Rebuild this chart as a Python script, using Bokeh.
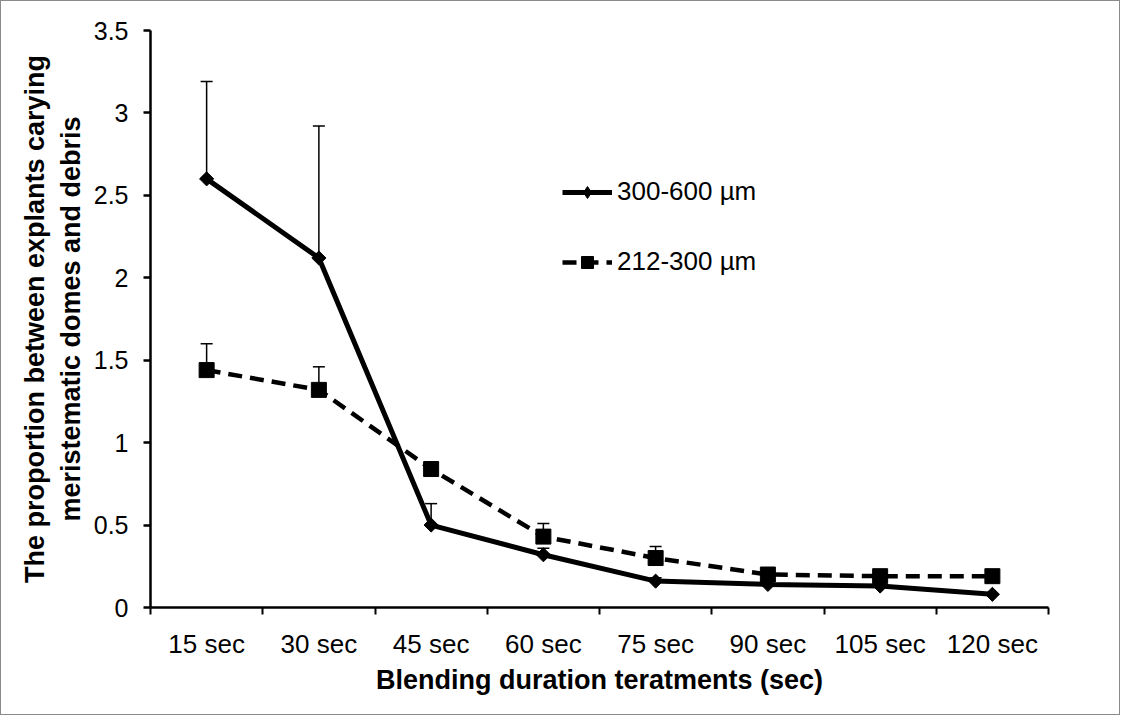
import math
from bokeh.plotting import figure
from bokeh.models import (ColumnDataSource, FixedTicker, Range1d, Whisker, Legend, LegendItem)
from bokeh.embed import file_html
from bokeh.resources import INLINE

categories = ["15 sec", "30 sec", "45 sec", "60 sec", "75 sec", "90 sec", "105 sec", "120 sec"]
s1_name = "300-600 µm"
s1_vals = [2.60, 2.12, 0.50, 0.32, 0.16, 0.14, 0.13, 0.08]
s1_err = [0.59, 0.80, 0.13, 0.04, 0.02, 0.00, 0.00, 0.00]
s2_name = "212-300 µm"
s2_vals = [1.44, 1.32, 0.84, 0.43, 0.30, 0.20, 0.19, 0.19]
s2_err = [0.16, 0.14, 0.00, 0.08, 0.07, 0.00, 0.00, 0.00]
y_ticks = [0, 0.5, 1, 1.5, 2, 2.5, 3, 3.5]
x_title = "Blending duration teratments (sec)"
y_title = "The proportion between explants carying\nmeristematic domes and debris"

FONT = "Liberation Sans"
xs = [i + 0.5 for i in range(len(categories))]

p = figure(width=1120, height=715, output_backend="svg", toolbar_location=None,
           x_range=Range1d(0, len(categories)), y_range=Range1d(0, 3.5),
           min_border_left=149, min_border_right=73, min_border_top=29, min_border_bottom=109)
p.styles = {"border": "1px solid #8a8a8a"}
p.outline_line_color = None
p.grid.visible = False
p.background_fill_color = "white"
p.border_fill_color = "white"

src1 = ColumnDataSource(dict(x=xs, y=s1_vals, up=[v + e for v, e in zip(s1_vals, s1_err)]))
src2 = ColumnDataSource(dict(x=xs, y=s2_vals, up=[v + e for v, e in zip(s2_vals, s2_err)]))

for src in (src1, src2):
    w = Whisker(source=src, base="x", lower="y", upper="up", dimension="height",
                line_color="black", line_width=1.5, lower_head=None)
    w.upper_head.line_color = "black"
    w.upper_head.line_width = 1.5
    w.upper_head.size = 12
    p.add_layout(w)

l2 = p.line("x", "y", source=src2, line_color="black", line_width=4.5, line_dash="14 8")
m2 = p.scatter("x", "y", source=src2, marker="square", size=15, fill_color="black", line_color="black")
l1 = p.line("x", "y", source=src1, line_color="black", line_width=5)
m1 = p.scatter("x", "y", source=src1, marker="square", angle=math.pi / 4, size=10,
               fill_color="black", line_color="black")
# legend-only diamond glyph, placed outside the visible range
leg_src = ColumnDataSource(dict(x=[-5.0], y=[-5.0]))
m1_leg = p.scatter("x", "y", source=leg_src, marker="diamond", size=15,
                   fill_color="black", line_color="black")

legend = Legend(items=[LegendItem(label=s1_name, renderers=[l1, m1_leg]),
                       LegendItem(label=s2_name, renderers=[l2, m2])],
                location=(412, 330), orientation="vertical")
legend.glyph_width = 50
legend.glyph_height = 30
legend.label_height = 30
legend.spacing = 39
legend.padding = 0
legend.margin = 0
legend.label_standoff = 5
legend.border_line_color = None
legend.background_fill_alpha = 0
legend.label_text_font = FONT
legend.label_text_font_size = "26px"
legend.label_text_color = "black"
p.add_layout(legend)

xa = p.xaxis[0]
xa.ticker = FixedTicker(ticks=xs, minor_ticks=list(range(len(categories) + 1)))
xa.major_label_overrides = {x: c for x, c in zip(xs, categories)}
xa.major_tick_in = 0
xa.major_tick_out = 0
xa.minor_tick_in = 0
xa.minor_tick_out = 7
xa.minor_tick_line_width = 2
xa.axis_line_width = 2.5
xa.axis_line_color = "black"
xa.minor_tick_line_color = "black"
xa.major_label_text_font = FONT
xa.major_label_text_font_size = "26px"
xa.major_label_text_color = "black"
xa.major_label_standoff = 14
xa.axis_label = x_title
xa.axis_label_text_font = FONT
xa.axis_label_text_font_style = "bold"
xa.axis_label_text_font_size = "27px"
xa.axis_label_text_color = "black"
xa.axis_label_standoff = 3

ya = p.yaxis[0]
ya.ticker = FixedTicker(ticks=y_ticks)
ya.major_label_overrides = {0: "0", 1: "1", 2: "2", 3: "3"}
ya.minor_tick_line_color = None
ya.major_tick_in = 0
ya.major_tick_out = 7
ya.major_tick_line_width = 2.5
ya.major_tick_line_color = "black"
ya.axis_line_width = 2.5
ya.axis_line_color = "black"
ya.major_label_text_font = FONT
ya.major_label_text_font_size = "25px"
ya.major_label_text_color = "black"
ya.major_label_standoff = 15
ya.axis_label = y_title
ya.axis_label_text_font = FONT
ya.axis_label_text_font_style = "bold"
ya.axis_label_text_font_size = "27px"
ya.axis_label_text_color = "black"
ya.axis_label_standoff = 5

open("out.html", "w").write(file_html(p, INLINE))
